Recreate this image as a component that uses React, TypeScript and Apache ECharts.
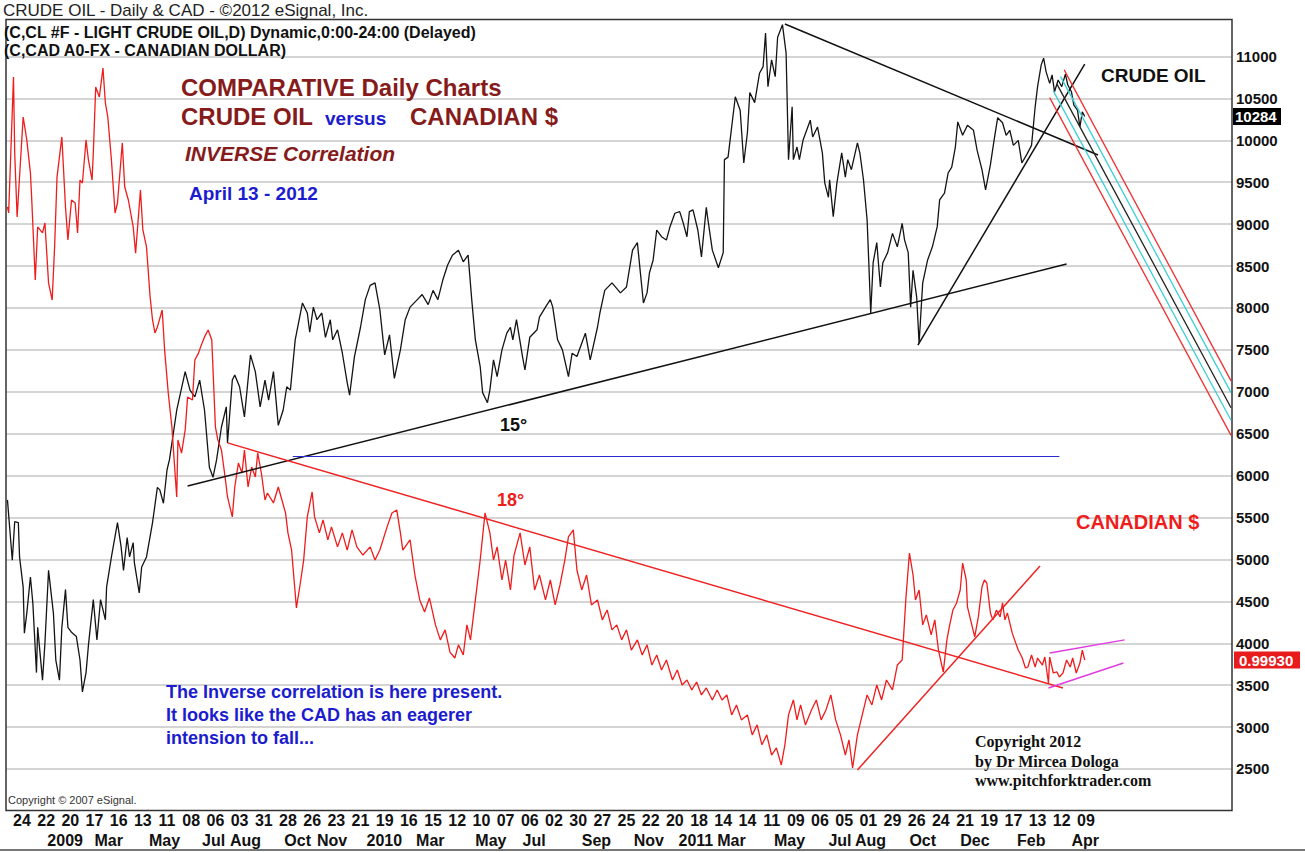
import React, { useEffect, useRef } from 'react';
import * as echarts from 'echarts';

// ---------- data ----------
// x = trading-day index (0 = label "24" Nov 2008, one tick label every 20 sessions)
const dayTicks = [0, 20, 40, 60, 80, 100, 120, 140, 160, 180, 200, 220, 240, 260, 280, 300, 320, 340, 360, 380, 400, 420, 440, 460, 480, 500, 520, 540, 560, 580, 600, 620, 640, 660, 680, 700, 720, 740, 760, 780, 800, 820, 840, 860, 880];
const dayLabels = ['24', '22', '20', '17', '16', '13', '11', '08', '06', '03', '31', '28', '26', '23', '21', '19', '16', '15', '12', '10', '07', '06', '02', '30', '27', '25', '22', '20', '18', '14', '14', '11', '09', '06', '05', '01', '29', '26', '24', '21', '19', '17', '13', '12', '09'];
const monthTicks = [21, 60, 105, 149, 172, 217, 244, 285, 326, 375, 414, 463, 506, 543, 575, 622, 667, 689, 734, 776, 823, 868];
const monthLabels = ['2009', 'Mar', 'May', 'Jul', 'Aug', 'Oct', 'Nov', '2010', 'Mar', 'May', 'Jul', 'Sep', 'Nov', '2011', 'Mar', 'May', 'Jul', 'Aug', 'Oct', 'Dec', 'Feb', 'Apr'];

// Crude oil (price x 100)
const oilPoints = [
  [-12, 5710], [-8, 4990], [-6, 5450], [-3, 5440], [-2, 5030], [1, 4670], [2, 4120], [4, 4360], [7, 4790], [9, 4480], [12, 3650], [13, 4190], [17, 3560], [19, 4000], [22, 4870], [26, 4360], [28, 3800], [31, 3560], [33, 4190], [36, 4640], [38, 4190], [41, 4130], [45, 4080], [48, 3800], [50, 3420], [53, 3650], [55, 3980], [59, 4520], [62, 4040], [65, 4520], [69, 4280], [70, 4670], [74, 5030], [79, 5440], [82, 5150], [84, 4870], [87, 5260], [89, 5030], [92, 5200], [93, 4960], [97, 4600], [99, 4910], [103, 5030], [108, 5440], [112, 5860], [114, 5830], [117, 5670], [120, 6070], [122, 6190], [128, 6780], [135, 7240], [139, 7020], [143, 6940], [147, 7140], [151, 6780], [155, 6100], [158, 5980], [161, 6190], [165, 6580], [169, 6820], [170, 6390], [174, 7140], [176, 7200], [180, 7060], [184, 6700], [189, 7440], [193, 7240], [197, 6820], [201, 7140], [204, 6900], [208, 7240], [212, 6600], [216, 6780], [219, 7060], [222, 7020], [226, 7620], [232, 8060], [236, 7940], [238, 7710], [241, 8010], [244, 7860], [248, 7940], [251, 7650], [255, 7860], [257, 7620], [261, 7740], [265, 7460], [269, 7110], [271, 6960], [275, 7420], [280, 7770], [284, 8100], [288, 8270], [292, 8300], [296, 7980], [300, 7440], [304, 7680], [308, 7160], [313, 7500], [317, 7860], [321, 8010], [327, 8100], [331, 8160], [336, 8040], [340, 8210], [344, 8100], [348, 8330], [352, 8510], [356, 8630], [361, 8690], [365, 8550], [369, 8630], [372, 8100], [375, 7620], [379, 7300], [381, 6990], [385, 6870], [387, 7020], [390, 7380], [393, 7180], [397, 7500], [401, 7700], [404, 7770], [406, 7620], [409, 7860], [414, 7420], [416, 7260], [420, 7650], [426, 7740], [428, 7890], [433, 8010], [437, 8100], [439, 8010], [443, 7620], [447, 7500], [452, 7180], [455, 7460], [459, 7420], [463, 7580], [466, 7700], [470, 7380], [476, 7770], [478, 7940], [482, 8210], [488, 8300], [495, 8180], [500, 8250], [505, 8690], [509, 8780], [511, 8490], [514, 8060], [517, 8180], [519, 8420], [522, 8570], [525, 8930], [529, 8850], [533, 8810], [536, 8970], [540, 9130], [544, 9150], [547, 9010], [550, 8850], [552, 9150], [555, 9170], [559, 8930], [562, 8610], [566, 9200], [567, 9090], [571, 8690], [576, 8480], [580, 8660], [581, 9770], [584, 9800], [587, 10160], [590, 10520], [594, 10360], [597, 9730], [600, 10090], [602, 10570], [606, 10450], [610, 10800], [613, 10880], [615, 11280], [617, 10640], [620, 10960], [623, 10760], [625, 11230], [629, 11380], [632, 11040], [634, 9770], [637, 10400], [638, 9770], [641, 9920], [643, 9770], [646, 10000], [649, 10120], [652, 10240], [654, 10040], [658, 10160], [662, 9850], [664, 9490], [667, 9320], [668, 9530], [671, 9090], [674, 9490], [678, 9850], [681, 9560], [683, 9770], [686, 9650], [691, 9970], [693, 9850], [696, 9530], [699, 9050], [700, 8690], [702, 7940], [704, 8540], [707, 8780], [710, 8250], [712, 8540], [716, 8660], [720, 8890], [724, 8730], [728, 9010], [730, 8810], [733, 8660], [735, 8010], [737, 8450], [740, 8130], [742, 7580], [745, 8300], [749, 8570], [753, 8730], [757, 8970], [759, 9290], [763, 9370], [766, 9610], [769, 9680], [772, 9920], [774, 10220], [778, 10060], [782, 10180], [787, 10120], [790, 9880], [794, 9650], [797, 9410], [801, 9710], [804, 10000], [807, 10270], [811, 10210], [814, 10060], [817, 10120], [820, 9940], [824, 10000], [827, 9730], [831, 9830], [835, 9940], [838, 10400], [840, 10640], [843, 10900], [845, 10980], [847, 10820], [850, 10680], [852, 10780], [854, 10580], [857, 10720], [860, 10640], [863, 10790], [865, 10660], [868, 10580], [870, 10420], [873, 10360], [875, 10160], [877, 10340], [879, 10284]
];

// Canadian dollar (USD/CAD)
const cadPoints = [
  [-12, 1.2263], [-11, 1.2233], [-7, 1.2914], [-6, 1.2533], [-4, 1.2213], [-2, 1.2413], [1, 1.2714], [4, 1.2599], [7, 1.2433], [8, 1.2313], [11, 1.1897], [13, 1.2163], [17, 1.2133], [19, 1.2183], [22, 1.1882], [25, 1.1797], [27, 1.2063], [29, 1.2413], [33, 1.2614], [36, 1.2263], [38, 1.2098], [41, 1.2298], [44, 1.2283], [46, 1.2133], [48, 1.2398], [50, 1.2383], [53, 1.2599], [55, 1.2498], [58, 1.2398], [59, 1.2533], [61, 1.2864], [64, 1.2814], [67, 1.2959], [69, 1.2784], [71, 1.2714], [74, 1.2498], [77, 1.2233], [79, 1.2283], [83, 1.2584], [85, 1.2363], [88, 1.2298], [92, 1.2163], [94, 1.2032], [98, 1.2348], [100, 1.2148], [103, 1.2063], [106, 1.1812], [108, 1.1697], [110, 1.1632], [112, 1.1662], [116, 1.1747], [118, 1.1546], [121, 1.1331], [124, 1.1161], [127, 1.0895], [128, 1.0810], [129, 1.1096], [132, 1.1030], [135, 1.1146], [137, 1.1311], [141, 1.1296], [143, 1.1496], [146, 1.1531], [149, 1.1582], [151, 1.1612], [154, 1.1647], [157, 1.1597], [160, 1.1161], [162, 1.1096], [165, 1.1045], [168, 1.0910], [170, 1.0810], [174, 1.0710], [176, 1.0860], [179, 1.0980], [182, 1.0930], [184, 1.1045], [187, 1.0860], [190, 1.0960], [193, 1.0910], [195, 1.1030], [198, 1.0930], [201, 1.0795], [203, 1.0830], [208, 1.0780], [212, 1.0860], [215, 1.0795], [218, 1.0730], [220, 1.0630], [223, 1.0544], [227, 1.0254], [230, 1.0369], [233, 1.0494], [236, 1.0710], [240, 1.0835], [242, 1.0710], [246, 1.0630], [249, 1.0695], [253, 1.0595], [256, 1.0660], [261, 1.0560], [265, 1.0630], [269, 1.0544], [273, 1.0645], [277, 1.0560], [282, 1.0519], [288, 1.0560], [292, 1.0494], [296, 1.0544], [302, 1.0660], [306, 1.0730], [310, 1.0745], [313, 1.0630], [315, 1.0544], [321, 1.0595], [325, 1.0419], [329, 1.0294], [333, 1.0234], [337, 1.0304], [342, 1.0169], [346, 1.0094], [350, 1.0144], [354, 1.0033], [358, 1.0003], [361, 1.0069], [365, 1.0018], [368, 1.0169], [371, 1.0094], [375, 1.0294], [379, 1.0494], [383, 1.0730], [387, 1.0630], [390, 1.0494], [393, 1.0560], [397, 1.0394], [400, 1.0494], [404, 1.0344], [407, 1.0519], [412, 1.0630], [416, 1.0469], [420, 1.0560], [424, 1.0344], [428, 1.0419], [433, 1.0294], [437, 1.0394], [441, 1.0269], [445, 1.0369], [449, 1.0494], [452, 1.0610], [456, 1.0645], [459, 1.0444], [463, 1.0344], [467, 1.0419], [471, 1.0269], [476, 1.0294], [480, 1.0194], [484, 1.0244], [488, 1.0144], [492, 1.0169], [496, 1.0094], [500, 1.0144], [504, 1.0043], [509, 1.0094], [513, 1.0018], [517, 1.0069], [521, 0.9968], [525, 1.0018], [529, 0.9943], [533, 0.9993], [538, 0.9893], [542, 0.9943], [546, 0.9868], [550, 0.9893], [554, 0.9843], [558, 0.9883], [562, 0.9818], [566, 0.9853], [571, 0.9793], [575, 0.9843], [579, 0.9793], [583, 0.9818], [587, 0.9718], [591, 0.9768], [595, 0.9693], [600, 0.9718], [604, 0.9618], [608, 0.9668], [612, 0.9568], [616, 0.9618], [620, 0.9517], [624, 0.9553], [628, 0.9467], [631, 0.9568], [634, 0.9718], [638, 0.9793], [641, 0.9693], [644, 0.9768], [648, 0.9668], [653, 0.9743], [657, 0.9793], [661, 0.9693], [665, 0.9743], [669, 0.9818], [673, 0.9693], [677, 0.9618], [681, 0.9517], [684, 0.9593], [687, 0.9452], [691, 0.9618], [695, 0.9718], [699, 0.9818], [703, 0.9768], [707, 0.9868], [711, 0.9793], [715, 0.9893], [720, 0.9843], [724, 0.9968], [728, 0.9993], [731, 1.0294], [734, 1.0529], [737, 1.0419], [739, 1.0294], [742, 1.0344], [745, 1.0169], [748, 1.0219], [752, 1.0119], [755, 1.0194], [758, 1.0043], [762, 0.9933], [765, 1.0094], [767, 1.0159], [770, 1.0244], [773, 1.0279], [776, 1.0344], [778, 1.0479], [781, 1.0394], [782, 1.0259], [786, 1.0159], [788, 1.0109], [791, 1.0209], [794, 1.0359], [796, 1.0394], [798, 1.0379], [801, 1.0229], [803, 1.0194], [806, 1.0244], [809, 1.0209], [811, 1.0279], [813, 1.0194], [815, 1.0229], [819, 1.0129], [821, 1.0094], [824, 1.0043], [827, 1.0008], [830, 0.9953], [832, 0.9958], [835, 1.0018], [838, 0.9958], [840, 1.0003], [844, 0.9968], [846, 1.0008], [849, 0.9878], [850, 1.0008], [853, 0.9928], [856, 0.9933], [858, 0.9908], [861, 0.9928], [864, 0.9993], [867, 0.9958], [869, 1.0003], [872, 0.9928], [875, 0.9978], [877, 1.0043], [879, 0.9993]
];

// trend lines (crude oil units)
const oilTrendLines = [
  [[137, 5876], [864, 8524]],
  [[631, 11388], [890, 9825]],
  [[741, 7558], [879, 10910]],
];
const blueLine = [[224, 6234], [858, 6234]];
const pitchforkRed = [
  [[862, 10840], [1000, 7130]],
  [[850, 10510], [1000, 6480]],
];
const pitchforkCyan = [
  [[859, 10760], [1000, 6990]],
  [[853, 10590], [1000, 6660]],
];
const pitchforkMedian = [[856, 10670], [1000, 6810]];
// trend lines (CAD units)
const cadTrendLines = [
  [[170, 1.1081], [861, 0.9853]],
  [[691, 0.9442], [842, 1.0464]],
];
const cadChannel = [
  [[850, 1.0028], [912, 1.0094]],
  [[849, 0.9853], [911, 0.9978]],
];

const F = '"Liberation Sans", Arial, Helvetica, sans-serif';
const MAROON = '#861b1b';
const BLUE = '#1c1ccf';
const RED = '#f01c1c';

function seg(line: number[][], color: string, width: number) {
  return [
    { coord: line[0], lineStyle: { color, width, type: 'solid' } },
    { coord: line[1] },
  ];
}

function txt(x: number, y: number, text: string, font: string, fill: string) {
  return { type: 'text', x, y, silent: true, z: 10, style: { text, font, fill, verticalAlign: 'middle' } };
}

export default function App() {
  const ref = useRef<HTMLDivElement>(null);
  useEffect(() => {
    const chart = echarts.init(ref.current!, null, { renderer: 'svg' });
    const lastOil = oilPoints[oilPoints.length - 1][1];
    const lastCad = cadPoints[cadPoints.length - 1][1];

    const graphics: any[] = [
      { type: 'rect', z: 5, silent: true, shape: { x: 6, y: 19.5, width: 1226, height: 791 }, style: { fill: 'none', stroke: '#333', lineWidth: 1.5 } },
      { type: 'line', z: 5, silent: true, shape: { x1: 0, y1: 850, x2: 1305, y2: 850 }, style: { stroke: '#777', lineWidth: 2 } },
      txt(3, 10, 'CRUDE OIL - Daily & CAD - ©2012 eSignal, Inc.', `17px ${F}`, '#222'),
      txt(4, 32, '(C,CL #F - LIGHT CRUDE OIL,D) Dynamic,0:00-24:00 (Delayed)', `bold 16px ${F}`, '#111'),
      txt(4, 50, '(C,CAD A0-FX - CANADIAN DOLLAR)', `bold 16px ${F}`, '#111'),
      txt(181, 87, 'COMPARATIVE Daily Charts', `bold 24px ${F}`, MAROON),
      txt(181, 116, 'CRUDE OIL', `bold 24px ${F}`, MAROON),
      txt(325, 118, 'versus', `bold 19px ${F}`, BLUE),
      txt(410, 116, 'CANADIAN $', `bold 24px ${F}`, MAROON),
      txt(185, 153, 'INVERSE Correlation', `italic bold 21px ${F}`, MAROON),
      txt(189, 193, 'April 13 - 2012', `bold 19px ${F}`, BLUE),
      txt(500, 425, '15°', `bold 18px ${F}`, '#111'),
      txt(497, 500, '18°', `bold 18px ${F}`, RED),
      txt(1101, 75, 'CRUDE OIL', `bold 19px ${F}`, '#111'),
      txt(1076, 522, 'CANADIAN $', `bold 20px ${F}`, RED),
      txt(166, 692, 'The Inverse correlation is here present.', `bold 18px ${F}`, BLUE),
      txt(166, 715, 'It looks like the CAD has an eagerer', `bold 18px ${F}`, BLUE),
      txt(166, 738, 'intension to fall...', `bold 18px ${F}`, BLUE),
      txt(975, 741, 'Copyright 2012', `bold 16px "Liberation Serif", "Times New Roman", serif`, '#111'),
      txt(975, 761, 'by Dr Mircea Dologa', `bold 16px "Liberation Serif", "Times New Roman", serif`, '#111'),
      txt(975, 780, 'www.pitchforktrader.com', `bold 16px "Liberation Serif", "Times New Roman", serif`, '#111'),
      txt(8, 800, 'Copyright © 2007 eSignal.', `11px ${F}`, '#333'),
    ];

    const xCommon = {
      type: 'value',
      position: 'bottom',
      min: -13.2,
      max: 1000.8,
      axisLine: { show: false },
      axisTick: { show: false },
      splitLine: { show: false },
    };

    const option: any = {
      animation: false,
      backgroundColor: '#fff',
      grid: { left: 6, right: 73, top: 14.6, bottom: 41.1, containLabel: false, outerBoundsMode: 'none' },
      xAxis: [
        {
          ...xCommon,
          axisLabel: {
            customValues: dayTicks,
            formatter: (v: number) => dayLabels[dayTicks.indexOf(Math.round(v))] ?? '',
            fontFamily: F, fontSize: 16, fontWeight: 'bold', color: '#111', margin: 2,
          },
        },
        {
          ...xCommon,
          offset: 20,
          axisLabel: {
            customValues: monthTicks,
            formatter: (v: number) => monthLabels[monthTicks.indexOf(Math.round(v))] ?? '',
            fontFamily: F, fontSize: 16, fontWeight: 'bold', color: '#111', margin: 2, align: 'left',
          },
        },
      ],
      yAxis: [
        {
          type: 'value',
          position: 'right',
          min: 2000,
          max: 11500,
          interval: 500,
          axisLine: { show: false },
          axisTick: { show: false },
          axisLabel: {
            formatter: (v: number) => String(v),
            fontFamily: F, fontSize: 15, fontWeight: 'bold', color: '#111', margin: 4,
            showMinLabel: false, showMaxLabel: false,
          },
          splitLine: { show: true, showMinLine: false, showMaxLine: false, lineStyle: { color: '#c6c6c6', width: 1.5 } },
        },
        { type: 'value', min: 0.9237, max: 1.3227, show: false },
      ],
      series: [
        {
          name: 'CRUDE OIL',
          type: 'line',
          xAxisIndex: 0,
          yAxisIndex: 0,
          data: oilPoints,
          showSymbol: false,
          symbol: 'none',
          lineStyle: { color: '#141414', width: 1.3 },
          z: 3,
          markLine: {
            silent: true,
            symbol: ['none', 'none'],
            label: { show: false },
            animation: false,
            lineStyle: { type: 'solid' },
            data: [
              ...oilTrendLines.map((l) => seg(l, '#111', 1.5)),
              seg(blueLine, '#2a2ad0', 1.2),
              ...pitchforkRed.map((l) => seg(l, '#ee3030', 1.3)),
              ...pitchforkCyan.map((l) => seg(l, '#3ccfd6', 1.3)),
              seg(pitchforkMedian, '#222', 1.3),
            ],
          },
        },
        {
          name: 'CANADIAN $',
          type: 'line',
          xAxisIndex: 0,
          yAxisIndex: 1,
          data: cadPoints,
          showSymbol: false,
          symbol: 'none',
          lineStyle: { color: RED, width: 1.3 },
          z: 4,
          markLine: {
            silent: true,
            symbol: ['none', 'none'],
            label: { show: false },
            animation: false,
            lineStyle: { type: 'solid' },
            data: [
              ...cadTrendLines.map((l) => seg(l, '#ee2222', 1.5)),
              ...cadChannel.map((l) => seg(l, '#e03ce0', 1.5)),
            ],
          },
        },
      ],
      graphic: graphics,
    };

    chart.setOption(option);

    const yOil = chart.convertToPixel({ yAxisIndex: 0 }, lastOil) as number;
    const yCad = chart.convertToPixel({ yAxisIndex: 1 }, lastCad) as number;
    chart.setOption({
      graphic: [
        ...graphics,
        { type: 'rect', z: 11, silent: true, shape: { x: 1233, y: yOil - 8.5, width: 48, height: 17 }, style: { fill: '#000' } },
        { type: 'text', z: 12, silent: true, x: 1235, y: yOil, style: { text: String(lastOil), font: `bold 15px ${F}`, fill: '#fff', verticalAlign: 'middle' } },
        { type: 'rect', z: 11, silent: true, shape: { x: 1234, y: yCad - 8.5, width: 66, height: 17 }, style: { fill: '#e81c1c' } },
        { type: 'text', z: 12, silent: true, x: 1239, y: yCad, style: { text: lastCad.toFixed(5), font: `bold 15px ${F}`, fill: '#fff', verticalAlign: 'middle' } },
      ],
    });

    return () => chart.dispose();
  }, []);

  return (
    <div style={{ position: 'fixed', left: 0, top: 0, width: 1305, height: 852, background: '#fff' }}>
      <div ref={ref} style={{ width: 1305, height: 852 }} />
    </div>
  );
}
